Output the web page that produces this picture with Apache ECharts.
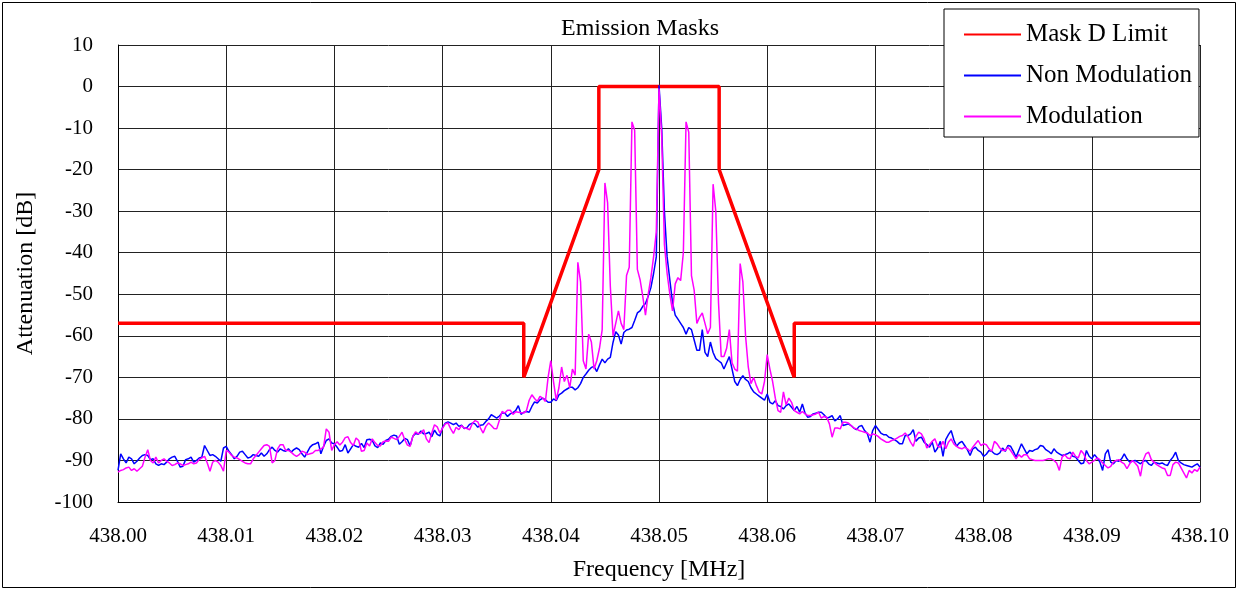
<!DOCTYPE html>
<html><head><meta charset="utf-8">
<script src="https://cdn.jsdelivr.net/npm/echarts@6/dist/echarts.min.js"></script>
<style>html,body{margin:0;padding:0;background:#fff}#c{width:1239px;height:590px}</style>
</head><body><div id="c"></div><script>
// Spectrum analyser sweep: 401 points from 438.000 MHz, 0.25 kHz apart
const START_MHZ = 438.0;
const STEP_MHZ = 0.00025;

const xTickLabels = ['438.00','438.01','438.02','438.03','438.04','438.05','438.06','438.07','438.08','438.09','438.10'];

// Mask D limit corner points
const maskFreq = [438.0, 438.0375, 438.0375, 438.04444, 438.04444, 438.05556, 438.05556, 438.0625, 438.0625, 438.1];
const maskDb   = [-57, -57, -70, -20, 0, 0, -20, -70, -57, -57];

// Non modulation (carrier only), dB
const nonModDb = [
-92.4,-88.4,-89.6,-90.6,-89.2,-89.6,-90.8,-90.2,-89.4,-88.8,
-88.6,-88.8,-89.8,-89.6,-90.8,-91.2,-90.8,-91,-90.4,-89.6,
-89.2,-89,-90.2,-91.6,-91.4,-89.8,-89.6,-89.2,-90.4,-90,
-89.4,-89.2,-86.4,-87.6,-88.8,-88.6,-89,-89.6,-90.2,-87,
-86.6,-87.8,-88.6,-89.6,-89,-88,-87.8,-88.6,-89.4,-89.2,
-88.6,-88.8,-89,-88.2,-89,-88.4,-87.4,-86.8,-87.6,-88,
-87.2,-87.6,-87.8,-87.2,-88,-87.4,-87,-87.4,-88.4,-89.2,
-88,-86.8,-86.2,-86,-85.6,-88.4,-86.6,-85.2,-84.8,-85.8,
-86,-86.8,-87.8,-87.6,-86.2,-88.2,-87.2,-86.2,-86.6,-86.8,
-85.9,-86.9,-85,-84.9,-85.2,-86.5,-86.9,-85.8,-86.1,-85.2,
-84.9,-84.2,-83.9,-84.1,-86.1,-85.5,-84.7,-85,-86.5,-84.2,
-83.5,-83.7,-82.9,-83.6,-83.5,-83.2,-84.3,-82.7,-83.7,-84.1,
-82,-81,-80.7,-81,-81.4,-81,-81.8,-81.5,-82.3,-82.1,
-81.3,-81,-81.2,-82,-81.5,-81.4,-80.6,-80,-79,-79.4,
-79.8,-79.3,-78.6,-78.6,-79.4,-78.8,-78.5,-78,-76.8,-78.9,
-78.4,-78.2,-78.4,-77,-75.9,-76.2,-75.4,-75,-75.4,-76,
-76,-75.2,-75.6,-74.2,-73.8,-73.2,-72.8,-72.4,-72.4,-73,
-72.5,-71.5,-70,-69.2,-68.3,-67.6,-67.4,-68.6,-67,-65.6,
-66.5,-65.6,-65.2,-61.6,-59,-59.8,-62,-59.2,-58.6,-58.4,
-58,-56.3,-54.5,-54,-52.9,-52.2,-50.5,-48.4,-45,-41,
0.3,-10,-30,-41,-46.5,-52,-55,-56,-57,-58,
-59.6,-58,-58.5,-61,-63.5,-63.5,-58.5,-64,-65,-61.5,
-64,-65.5,-66,-66.5,-68,-66.5,-65,-68,-71,-72,
-70.5,-69.6,-70.5,-71,-72.5,-73.5,-74,-74.5,-75,-75.5,
-74,-76,-76.4,-75.6,-76.8,-77,-77.6,-76.8,-76.4,-77.2,
-78,-77,-78.4,-76.4,-78.6,-79.6,-79.4,-78.8,-78.6,-78.4,
-78.4,-79,-79.8,-79.6,-79.2,-80.5,-80,-79.2,-81.6,-81.4,
-81.2,-81.6,-82.2,-82.6,-81.8,-81.6,-82.8,-83.5,-85.6,-82.8,
-81.6,-82.5,-83.4,-83.8,-83.8,-84.4,-84.6,-85,-85.4,-86,
-86,-84,-84,-83.6,-82.6,-85.4,-84.6,-84.4,-85.6,-86.2,
-86.8,-85.6,-88,-87,-85.4,-89,-85,-83.8,-82.8,-85,
-86.6,-85.8,-85.4,-86.4,-87.4,-88.8,-87.2,-86.8,-87.6,-88,
-89,-88.5,-87.6,-87.8,-88.4,-88.6,-88.2,-87,-87.8,-86.4,
-86.6,-87.8,-89.2,-87.6,-86,-87.2,-88.4,-87.6,-87.8,-87.4,
-87.2,-86.4,-86.6,-87.4,-87.8,-88.4,-87.2,-88,-88.4,-88.8,
-88.6,-88.4,-88,-89,-89.2,-90,-90.8,-90.6,-87.6,-89,
-89.6,-88.6,-89.4,-90.4,-92.4,-88.4,-87.4,-90.4,-90.8,-90,
-90.2,-89.6,-88.4,-89.6,-90.4,-90.2,-90,-90.4,-90.8,-90.2,
-90,-90.8,-91.2,-90.4,-90.6,-90.8,-90.6,-91,-91.2,-90,
-89.2,-88,-90,-90.6,-91,-91.2,-91.4,-91.6,-91.2,-90.8,
-91.6
];

// Modulation, dB
const modDb = [
-92.8,-92.4,-92.2,-91.8,-91.6,-92.4,-92,-92.6,-92,-91.4,
-89.2,-87.4,-90,-90.6,-89.2,-90.6,-90,-89.6,-90.2,-90.6,
-91.2,-91,-90.6,-90.8,-91.2,-91,-90.8,-90.4,-90.8,-90.6,
-89.8,-89.4,-89,-90.6,-92.6,-90.4,-90,-90.4,-91.2,-92.6,
-87.6,-88,-88.8,-89.2,-89.4,-89.8,-90.2,-90.6,-90.8,-90.8,
-89.6,-88.8,-88,-87.2,-86.4,-86.2,-86.6,-90.6,-90,-87.2,
-86.2,-86.2,-87.6,-87.6,-88,-88.6,-89,-88.6,-87.8,-88,
-88.6,-88.4,-88.2,-87.6,-87.6,-87.2,-86.8,-82.4,-83.2,-87.6,
-86.2,-85.5,-86.3,-85.6,-84.5,-84.3,-85.7,-86.4,-84.6,-85.2,
-87.8,-87.6,-85.8,-86.5,-84.8,-85.7,-86.4,-86.5,-85.5,-85.3,
-85.4,-84.4,-84.7,-85,-84.2,-83.2,-85,-86.3,-86.6,-84.2,
-83.1,-83.6,-83.4,-82.6,-84.8,-85.7,-83.4,-81.4,-81.9,-83.4,
-82.2,-81.2,-81,-82.4,-83.5,-82,-82.6,-81.6,-82.2,-82.3,
-82.6,-81.1,-80.4,-80.7,-82.2,-83.4,-81.8,-81,-81.6,-82.3,
-82.4,-80.3,-78.2,-78.6,-77.9,-77.9,-78.9,-78.3,-78.4,-78.5,
-78.6,-78,-75.5,-74.2,-75.1,-75.8,-74.6,-75,-75.8,-70,
-66,-71,-75.5,-72.5,-67.5,-71,-69.5,-72.5,-68,-69.5,
-42.3,-47,-66,-68,-59.6,-61.5,-68,-66,-63,-58.5,
-23.2,-28,-48,-60,-57,-54,-57,-58.5,-45.5,-43.5,
-8.5,-10.5,-44,-46.5,-50.5,-55,-50,-46,-41,-35,
-0.5,-12,-38,-45,-50,-54,-47.5,-46,-46.7,-40,
-8.5,-11,-45.5,-49,-57,-55.5,-54.5,-57,-59.5,-58,
-23.5,-30,-52,-65,-65,-63,-58.5,-66.5,-68,-68.5,
-42.6,-47,-60,-67.5,-71.5,-70,-72,-73.5,-74,-71,
-64.5,-68,-71,-75,-78,-78.4,-73.5,-76.6,-75,-76,
-78,-78.4,-78.8,-78.2,-78.8,-79.2,-79.2,-79,-78.8,-78.4,
-79.8,-79.4,-79.6,-81.2,-84.4,-82.2,-82.2,-82.4,-80.8,-80.8,
-81,-81.6,-82.2,-82.4,-82.8,-83,-83.2,-83.4,-84,-83.6,
-83.8,-84.2,-84.8,-85.2,-85.6,-85.6,-85.2,-85,-84.6,-84.2,
-84,-83.4,-84.2,-85.6,-86.6,-84.2,-83.2,-83.6,-84.8,-87,
-86.2,-85.4,-84.8,-86.6,-86.8,-85.4,-87.2,-85.6,-84.8,-86,
-86.6,-87,-87.2,-86.8,-87.2,-87.8,-86.8,-86,-85.2,-86.4,
-86,-86.2,-87.2,-87.8,-85.4,-86,-87,-87.6,-87.6,-86.8,
-87.6,-88.6,-89.6,-88.6,-89.2,-88.6,-88.6,-89.6,-89.8,-90,
-90,-90,-90,-89.8,-89.6,-89.6,-90,-90.6,-92.4,-89.2,
-88.6,-89.4,-89.6,-88,-89,-89.4,-87.6,-88.4,-90,-90.8,
-90.4,-90,-89.4,-89.8,-90.6,-91.2,-91.8,-91.4,-90.4,-90,
-89.8,-90.4,-90.8,-92,-90.8,-90,-90.6,-91.4,-93.8,-90,
-88.4,-88,-89.8,-90.4,-91,-91.4,-91.8,-92,-93.6,-93.6,
-91,-90.4,-90.6,-91.8,-93,-94.2,-92.4,-93,-92.2,-92.6,
-91.6
];

const FONT = 'Liberation Serif';
const sweepFreq = nonModDb.map((_, i) => +(START_MHZ + i * STEP_MHZ).toFixed(5));
const pairs = (xs, ys) => ys.map((y, i) => [xs[i], y]);

const chart = echarts.init(document.getElementById('c'), null, {renderer: 'canvas'});
chart.setOption({
  animation: false,
  backgroundColor: '#fff',
  grid: {left: 118, right: 39, top: 45, bottom: 88, containLabel: false},
  graphic: [
    {type: 'rect', shape: {x: 2.5, y: 2.5, width: 1233, height: 585}, style: {fill: 'none', stroke: '#000', lineWidth: 1}, silent: true, z: -1},
    {type: 'text', x: 640, y: 29, style: {text: 'Emission Masks', font: '24px "Liberation Serif"', fill: '#000', align: 'center', verticalAlign: 'middle'}, z: 10}
  ],
  legend: {
    orient: 'vertical', left: 944, top: 9,
    padding: [13, 7, 8, 19], itemGap: 16, itemWidth: 57, itemHeight: 14,
    backgroundColor: '#fff', borderColor: '#000', borderWidth: 1, borderRadius: 0,
    itemStyle: {opacity: 0},
    textStyle: {fontFamily: FONT, fontSize: 25, color: '#000'},
    data: ['Mask D Limit', 'Non Modulation', 'Modulation']
  },
  xAxis: {
    type: 'value', min: 438.0, max: 438.1, interval: 0.01,
    name: 'Frequency [MHz]', nameLocation: 'middle', nameGap: 56,
    nameTextStyle: {fontFamily: FONT, fontSize: 24, color: '#000'},
    axisLine: {show: true, onZero: false, lineStyle: {color: '#000', width: 1}},
    axisTick: {show: false},
    axisLabel: {margin: 24, fontFamily: FONT, fontSize: 21, color: '#000',
      formatter: v => xTickLabels[Math.round((v - START_MHZ) / 0.01)]},
    splitLine: {show: true, lineStyle: {color: '#222', width: 1}}
  },
  yAxis: {
    type: 'value', min: -100, max: 10, interval: 10,
    name: 'Attenuation [dB]', nameLocation: 'middle', nameGap: 80, nameRotate: 90,
    nameTextStyle: {fontFamily: FONT, fontSize: 24, color: '#000'},
    axisLine: {show: true, onZero: false, lineStyle: {color: '#000', width: 1}},
    axisTick: {show: false},
    axisLabel: {margin: 25, fontFamily: FONT, fontSize: 21, color: '#000'},
    splitLine: {show: true, lineStyle: {color: '#222', width: 1}}
  },
  series: [
    {name: 'Mask D Limit', type: 'line', data: pairs(maskFreq, maskDb), symbol: 'none', showSymbol: false,
      lineStyle: {color: '#ff0000', width: 3.5}, itemStyle: {color: '#ff0000'}, z: 2},
    {name: 'Non Modulation', type: 'line', data: pairs(sweepFreq, nonModDb), symbol: 'none', showSymbol: false,
      lineStyle: {color: '#0000ff', width: 1.5}, itemStyle: {color: '#0000ff'}, z: 3},
    {name: 'Modulation', type: 'line', data: pairs(sweepFreq, modDb), symbol: 'none', showSymbol: false,
      lineStyle: {color: '#ff00ff', width: 1.5}, itemStyle: {color: '#ff00ff'}, z: 4}
  ]
});
</script></body></html>
